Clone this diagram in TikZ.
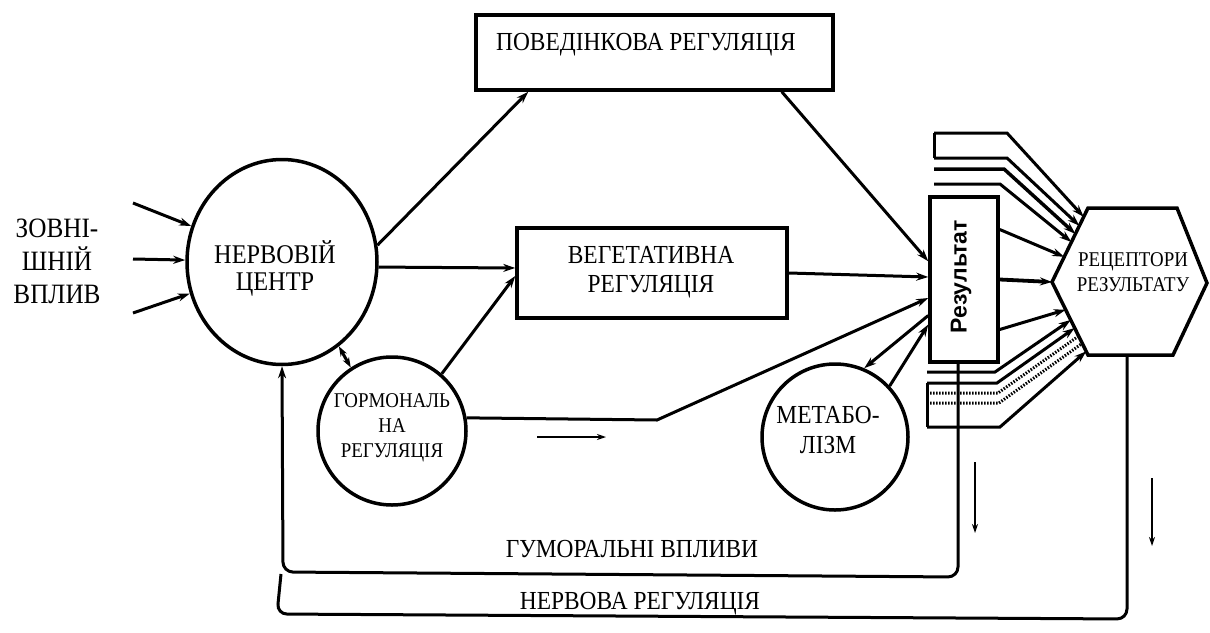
\documentclass[tikz,border=0pt]{standalone}
\usepackage{fontspec}
\setmainfont{Liberation Serif}[FakeStretch=0.9]
\setsansfont{Liberation Sans}
\usetikzlibrary{arrows.meta,calc,shapes.geometric}
\begin{document}
\begin{tikzpicture}[x=1pt,y=-1pt,
  ln/.style={line width=3pt},
  arr/.style={ln,-{Stealth[length=12pt,width=8pt]}},
  sarr/.style={line width=2pt,-{Stealth[length=9pt,width=6pt]}},
  dots/.style={line width=3pt,dash pattern=on 1.5pt off 1.5pt},
  box/.style={draw,line width=3.5pt,rectangle,inner sep=0pt},
  circ/.style={draw,line width=3.5pt,circle,inner sep=0pt},
  txt/.style={align=center,inner sep=0pt,font=\fontsize{26}{29}\selectfont},
  smalltxt/.style={align=center,inner sep=0pt,font=\fontsize{21}{25}\selectfont}
]
\useasboundingbox[fill=white] (0,0) rectangle (1210,632);

% nodes
\node[draw,ellipse,line width=3.5pt,minimum width=190pt,minimum height=205pt] (nc) at (282,262) {};
\node[txt,font=\fontsize{27}{27}\selectfont] (nct) at (275,268) {НЕРВОВІЙ\\ЦЕНТР};
\node[txt,font=\fontsize{28}{33}\selectfont] (ext) at (57,261) {ЗОВНІ-\\ШНІЙ\\ВПЛИВ};
\node[circ,minimum size=148pt] (hor) at (392,431) {};
\node[smalltxt] (hort) at (392,428) {ГОРМОНАЛЬ\\НА\\РЕГУЛЯЦІЯ};
\node[circ,minimum size=146pt] (met) at (835,437) {};
\node[txt,font=\fontsize{26}{30}\selectfont] (mett) at (828,430) {МЕТАБО-\\ЛІЗМ};
\node[box,minimum width=357pt,minimum height=75pt] (beh) at (654.5,52.5) {};
\node[txt] (beht) at (646,45) {ПОВЕДІНКОВА РЕГУЛЯЦІЯ};
\node[box,minimum width=270pt,minimum height=90pt] (veg) at (652,273) {};
\node[txt] (vegt) at (651,272) {ВЕГЕТАТИВНА\\РЕГУЛЯЦІЯ};
\node[box,minimum width=68pt,minimum height=165pt] (res) at (964,279.5) {};
\node[inner sep=0pt,rotate=90,font=\sffamily\bfseries\fontsize{23}{26}\selectfont] (rest) at (961,277) {Результат};
% hexagon
\coordinate (h1) at (1088,208);
\coordinate (h2) at (1177,208);
\coordinate (h3) at (1207,283);
\coordinate (h4) at (1173,355);
\coordinate (h5) at (1088,355);
\coordinate (h6) at (1052,282);
\draw[line width=3.5pt,line join=miter] (h1) -- (h2) -- (h3) -- (h4) -- (h5) -- (h6) -- cycle;
\node[smalltxt] (rec) at (1133,272) {РЕЦЕПТОРИ\\РЕЗУЛЬТАТУ};
\node[txt] (hum) at (632,549) {ГУМОРАЛЬНІ ВПЛИВИ};
\node[txt] (nrv) at (640,604) {НЕРВОВА РЕГУЛЯЦІЯ};

% external inputs
\coordinate (in1) at (133,203);
\coordinate (in2) at (133,259);
\coordinate (in3) at (133,313);
\draw[arr] (in1) -- (nc);
\draw[arr] (in2) -- (nc);
\draw[arr] (in3) -- (nc);

% main connectors
\draw[arr] (nc.10) -- ($(beh.south west)+(54,0)$);
\draw[arr] (nc.-3) -- ($(veg.west)+(0,-5)$);
\draw[ln,{Stealth[length=10pt,width=7pt]}-{Stealth[length=10pt,width=7pt]}] (nc.-56) -- (hor.123);
\draw[arr] (hor.49) -- ($(veg.west)+(0,3)$);
\draw[arr] (hor.10) -- (657,420) -- ($(res.west)+(0,18.5)$);
\draw[arr] (veg.east) -- ($(res.west)+(0,-2.5)$);
\draw[arr] ($(beh.south east)+(-53,0)$) -- ($(res.north west)+(0,66)$);
\draw[arr] ($(res.west)+(0,36)$) -- (met.67);
\draw[arr] (met.43) -- ($(res.west)+(0,45)$);

% result -> receptors
\draw[arr] ($(res.east)+(0,-50)$) -- ($(h6)!0.34!(h1)$);
\draw[arr,line width=3.8pt] (res.east) -- (h6);
\draw[arr] ($(res.east)+(0,50)$) -- ($(h6)!0.38!(h5)$);

% upper parameter bands
\coordinate (t1) at (934,133);
\coordinate (t2) at (934,158);
\coordinate (t3) at (934,169);
\coordinate (t4) at (934,184);
\draw[ln] (t2) -- (t1);
\draw[arr] (t1) -- (1007,133) -- ($(h6)!0.88!(h1)$);
\draw[arr] (t2) -- (1007,158) -- ($(h6)!0.76!(h1)$);
\draw[arr,line width=3.5pt] (t3) -- (1004,169) -- ($(h6)!0.65!(h1)$);
\draw[arr] (t4) -- (1000,184) -- ($(h6)!0.54!(h1)$);

% lower parameter bands
\coordinate (b1) at (927,372);
\coordinate (b2) at (927,383);
\coordinate (b3) at (927,393);
\coordinate (b4) at (927,403);
\coordinate (b5) at (927,427);
\draw[ln] (b2) -- (b5);
\draw[arr] (b1) -- (995,372) -- ($(h6)!0.52!(h5)$);
\draw[arr] (b2) -- (997,383) -- ($(h6)!0.63!(h5)$);
\draw[dots] (b3) -- (998,393) -- ($(h6)!0.74!(h5)$);
\draw[dots] (b4) -- (999,403) -- ($(h6)!0.84!(h5)$);
\draw[arr] (b5) -- (1000,427) -- ($(h6)!0.95!(h5)$);

% feedback loops
\coordinate (hc1) at (958,577);
\coordinate (hc2) at (283,572);
\draw[arr,rounded corners=10pt] ($(res.south)+(-6,0)$) -- (hc1) -- (hc2) -- (nc.south);
\coordinate (nbot) at (1127,355);
\coordinate (nc1) at (1127,619);
\coordinate (nc2) at (277,614);
\coordinate (nc3) at (281,574);
\draw[ln,rounded corners=10pt] (nbot) -- (nc1) -- (nc2) -- (nc3);

% small direction arrows
\coordinate (s1a) at (537,437);
\coordinate (s1b) at (606,437);
\draw[sarr] (s1a) -- (s1b);
\coordinate (s2a) at (975,462);
\coordinate (s2b) at (975,533);
\draw[sarr] (s2a) -- (s2b);
\coordinate (s3a) at (1152,478);
\coordinate (s3b) at (1152,546);
\draw[sarr] (s3a) -- (s3b);
\end{tikzpicture}
\end{document}
